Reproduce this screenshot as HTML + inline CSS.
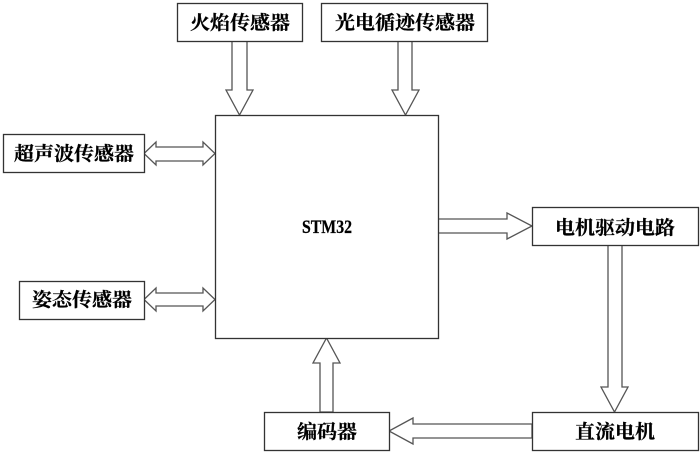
<!DOCTYPE html>
<html>
<head>
<meta charset="utf-8">
<style>
html,body{margin:0;padding:0;background:#fff;width:700px;height:453px;overflow:hidden}
svg{display:block}
.b{fill:#fff;stroke:#333;stroke-width:1.3}
.a{fill:#fff;stroke:#555;stroke-width:1.3;stroke-linejoin:miter}
text{font-family:"Liberation Serif","Noto Serif CJK SC",serif;font-weight:700;font-size:19px;fill:#000;stroke:#000;stroke-width:.25;text-anchor:middle}
</style>
</head>
<body>
<svg width="700" height="453" viewBox="0 0 700 453" xmlns="http://www.w3.org/2000/svg">
<rect width="700" height="453" fill="#fff"/>
<!-- arrows -->
<polygon class="a" points="232,41 247,41 247,90 253,90 239.5,115 226,90 232,90"/>
<polygon class="a" points="398,41 412,41 412,90 419,90 405.5,115 392,90 398,90"/>
<polygon class="a" points="144,153.500 156,142 156,147 203,147 203,142 215,153.500 203,165 203,161 156,161 156,165"/>
<polygon class="a" points="144,299.500 156,288 156,293 203,293 203,288 215,299.500 203,311 203,306 156,306 156,311"/>
<polygon class="a" points="438,219 507,219 507,213 532,226 507,239 507,233 438,233"/>
<polygon class="a" points="608,245 622,245 622,387 628,387 614.500,412 601,387 608,387"/>
<polygon class="a" points="532,424 413,424 413,418 389,431 413,444 413,438 532,438"/>
<polygon class="a" points="320,412 333,412 333,363 340,363 326.500,338 313,363 320,363"/>
<!-- boxes -->
<rect class="b" x="177.500" y="3.500" width="125" height="38"/>
<rect class="b" x="321.500" y="3.500" width="166" height="38"/>
<rect class="b" x="215.500" y="115.500" width="223" height="223"/>
<rect class="b" x="3.500" y="134.500" width="141" height="38"/>
<rect class="b" x="19.500" y="281.500" width="125" height="38"/>
<rect class="b" x="532.500" y="207.500" width="166" height="38"/>
<rect class="b" x="532.500" y="412.500" width="166" height="38"/>
<rect class="b" x="264.500" y="412.500" width="125" height="38"/>
<!-- labels -->
<text x="240" y="29" textLength="100" lengthAdjust="spacingAndGlyphs">火焰传感器</text>
<text x="405" y="29" textLength="140" lengthAdjust="spacingAndGlyphs">光电循迹传感器</text>
<text x="74" y="160" textLength="120" lengthAdjust="spacingAndGlyphs">超声波传感器</text>
<text x="82" y="306" textLength="100" lengthAdjust="spacingAndGlyphs">姿态传感器</text>
<text x="615" y="234" textLength="120" lengthAdjust="spacingAndGlyphs">电机驱动电路</text>
<text x="615" y="438" textLength="80" lengthAdjust="spacingAndGlyphs">直流电机</text>
<text x="327" y="438" textLength="60" lengthAdjust="spacingAndGlyphs">编码器</text>
<text x="327" y="233" textLength="50" lengthAdjust="spacingAndGlyphs" style="font-size:19px">STM32</text>
</svg>
</body>
</html>
